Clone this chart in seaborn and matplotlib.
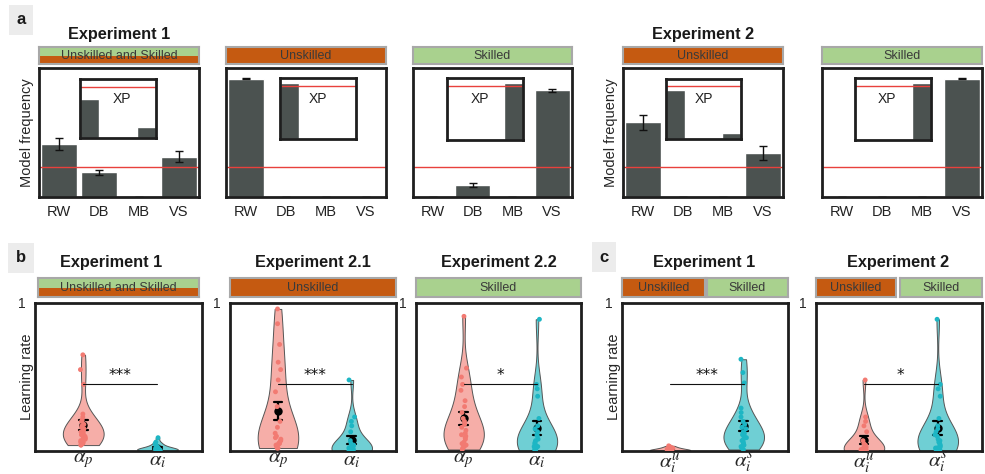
import numpy as np
import pandas as pd
import matplotlib
matplotlib.use('Agg')
import matplotlib.pyplot as plt
import seaborn as sns

# ---- data ----
models = ['RW', 'DB', 'MB', 'VS']
chance_level = 0.25
xp_threshold = 0.95

# panel a: model frequency (mean, sem) and exceedance probability (inset)
freq_e1_all = [0.45, 0.21, 0.0, 0.34]
sem_e1_all = [0.05, 0.02, 0.0, 0.045]
xp_e1_all = [0.72, 0.02, 0.0, 0.21]

freq_e1_unsk = [1.0, 0.0, 0.0, 0.0]
sem_e1_unsk = [0.005, 0.0, 0.0, 0.0]
xp_e1_unsk = [1.0, 0.0, 0.0, 0.0]

freq_e1_sk = [0.0, 0.10, 0.0, 0.90]
sem_e1_sk = [0.0, 0.015, 0.0, 0.015]
xp_e1_sk = [0.0, 0.0, 0.0, 1.0]

freq_e2_unsk = [0.63, 0.0, 0.0, 0.37]
sem_e2_unsk = [0.06, 0.0, 0.0, 0.06]
xp_e2_unsk = [0.89, 0.0, 0.0, 0.11]

freq_e2_sk = [0.0, 0.0, 0.0, 1.0]
sem_e2_sk = [0.0, 0.0, 0.0, 0.005]
xp_e2_sk = [0.0, 0.0, 0.0, 1.0]

# panel b/c: learning rates per participant
alpha_p_e1 = [0.65, 0.55, 0.45, 0.25, 0.23, 0.21, 0.20, 0.18, 0.17, 0.16, 0.15, 0.14, 0.13,
              0.12, 0.11, 0.10, 0.09, 0.09, 0.08, 0.07, 0.06, 0.06, 0.05, 0.04, 0.04]
alpha_i_e1 = [0.09, 0.06, 0.05, 0.04, 0.03, 0.03, 0.02, 0.02, 0.02, 0.01, 0.01, 0.01,
              0.01, 0.01, 0.005, 0.005, 0.0, 0.0, 0.0, 0.0]
alpha_p_e21 = [0.96, 0.86, 0.72, 0.60, 0.55, 0.48, 0.40, 0.30, 0.20, 0.16, 0.12, 0.10,
               0.09, 0.08, 0.07, 0.06, 0.05, 0.05, 0.04, 0.03, 0.02, 0.02]
alpha_i_e21 = [0.48, 0.23, 0.20, 0.17, 0.13, 0.07, 0.05, 0.04, 0.03, 0.02, 0.02, 0.01,
               0.01, 0.01, 0.0, 0.0, 0.0, 0.0, 0.0, 0.0]
alpha_p_e22 = [0.91, 0.56, 0.50, 0.45, 0.41, 0.34, 0.30, 0.26, 0.22, 0.20, 0.18, 0.16,
               0.14, 0.12, 0.11, 0.10, 0.09, 0.08, 0.06, 0.05, 0.04, 0.03, 0.02, 0.01]
alpha_i_e22 = [0.89, 0.45, 0.42, 0.37, 0.22, 0.17, 0.15, 0.13, 0.11, 0.10, 0.08, 0.07,
               0.06, 0.05, 0.04, 0.03, 0.03, 0.02, 0.02, 0.01, 0.01, 0.0]
alpha_iu_e1 = [0.035, 0.03, 0.025, 0.02, 0.02, 0.015, 0.015, 0.01, 0.01, 0.01, 0.008,
               0.005, 0.005, 0.003, 0.002, 0.0, 0.0, 0.0]
alpha_is_e1 = [0.62, 0.53, 0.46, 0.29, 0.26, 0.23, 0.20, 0.18, 0.16, 0.15, 0.13, 0.12,
               0.11, 0.10, 0.09, 0.08, 0.07, 0.06, 0.05, 0.04, 0.04, 0.03, 0.02, 0.01]

# ---- style ----
sns.set_style('white')
plt.rcParams['font.family'] = ['Liberation Sans', 'DejaVu Sans']
plt.rcParams['mathtext.fontset'] = 'stix'
np.random.seed(2)

W, H = 985, 474
fig = plt.figure(figsize=(W / 100, H / 100), dpi=100)

bar_color = '#4b5250'
red = '#e8413c'
green = '#a9d18e'
orange = '#c55a11'
pink_fill, pink_pt = '#f6aea8', '#f27a72'
cyan_fill, cyan_pt = '#6fcfd4', '#1db6c4'


def box(l, r, t, b):
    return [l / W, 1 - b / H, (r - l) / W, (b - t) / H]


def frame(ax, lw=2.0):
    for sp in ax.spines.values():
        sp.set_visible(True)
        sp.set_color('#1e1e1e')
        sp.set_linewidth(lw)


def strip(l, r, t, b, text, colors):
    s = fig.add_axes(box(l, r, t, b))
    s.set_xlim(0, 1)
    s.set_ylim(0, 1)
    if len(colors) == 2:
        s.axhspan(0.5, 1, color=colors[0], lw=0)
        s.axhspan(0, 0.5, color=colors[1], lw=0)
    else:
        s.set_facecolor(colors[0])
    s.set_xticks([])
    s.set_yticks([])
    for sp in s.spines.values():
        sp.set_visible(True)
        sp.set_color('#a8a8a8')
        sp.set_linewidth(1.5)
    s.text(0.5, 0.45, text, ha='center', va='center', fontsize=9, color='#3a3a3a')


def bar_panel(rect, freq, sem, xp, inset, xp_x, ylabel=''):
    ax = fig.add_axes(box(*rect))
    df = pd.DataFrame({'model': models, 'freq': freq})
    sns.barplot(data=df, x='model', y='freq', color=bar_color, saturation=1,
                width=0.88, ax=ax)
    ax.errorbar(range(len(models)), freq, yerr=sem, fmt='none', ecolor='#111',
                elinewidth=1, capsize=3, capthick=1)
    ax.axhline(chance_level, color=red, lw=1)
    ax.set_xlim(-0.5, 3.5)
    ax.set_ylim(0, 1.09)
    ax.set_yticks([])
    ax.set_xlabel('')
    ax.set_ylabel(ylabel, fontsize=10.5)
    ax.yaxis.set_label_coords(-0.03, 0.5)
    ax.tick_params(axis='x', length=0, pad=6, labelsize=10.5, labelcolor='#222')
    frame(ax)

    ins = ax.inset_axes(inset)
    dfx = pd.DataFrame({'model': models, 'xp': xp})
    sns.barplot(data=dfx, x='model', y='xp', color=bar_color, saturation=1,
                width=1.0, ax=ins)
    ins.axhline(xp_threshold, color=red, lw=1)
    ins.set_xlim(-0.5, 3.5)
    ins.set_ylim(0, 1.09)
    ins.set_xticks([])
    ins.set_yticks([])
    ins.set_xlabel('')
    ins.set_ylabel('')
    ins.text(xp_x, 0.66, 'XP', transform=ins.transAxes, ha='center', va='center',
             fontsize=10, color='#222')
    frame(ins)
    return ax


def violin_panel(rect, vals_a, vals_b, labels, stars, ylabel=''):
    ax = fig.add_axes(box(*rect))
    names = ['a', 'b']
    df = pd.DataFrame({'param': [names[0]] * len(vals_a) + [names[1]] * len(vals_b),
                       'rate': vals_a + vals_b})
    sns.violinplot(data=df, x='param', y='rate', hue='param', order=names,
                   hue_order=names, palette={'a': pink_fill, 'b': cyan_fill},
                   saturation=1, cut=0, inner=None, density_norm='width',
                   width=0.55, linewidth=0.7, linecolor='#555555', legend=False, ax=ax)
    sns.stripplot(data=df, x='param', y='rate', hue='param', order=names,
                  hue_order=names, palette={'a': pink_pt, 'b': cyan_pt},
                  jitter=0.04, size=3.5, legend=False, ax=ax, zorder=3)
    sns.pointplot(data=df, x='param', y='rate', order=names, errorbar='se',
                  color='black', markers='o', markersize=4, linestyle='none',
                  capsize=0.12, err_kws={'linewidth': 1.6}, ax=ax)
    ax.plot([0, 1], [0.45, 0.45], color='#111', lw=0.8, zorder=4)
    ax.text(0.5, 0.48, stars, ha='center', va='baseline', fontsize=11,
            family='DejaVu Sans', color='#111')
    ax.set_xlim(-0.65, 1.6)
    ax.set_ylim(0, 1)
    ax.set_yticks([0.25, 0.5, 0.75, 1.0])
    ax.set_yticklabels(['', '', '', '1'])
    ax.set_xticks([0, 1])
    ax.set_xticklabels(labels, fontsize=15)
    ax.tick_params(axis='y', direction='in', length=3, color='#aaaaaa',
                   labelsize=10, pad=7)
    ax.tick_params(axis='x', length=0, pad=0)
    ax.set_xlabel('')
    ax.set_ylabel(ylabel, fontsize=10.5)
    ax.yaxis.set_label_coords(-0.006, 0.5)
    frame(ax)
    return ax


# ---- row a ----
bar_panel((39, 199, 68, 197), freq_e1_all, sem_e1_all, xp_e1_all,
          [0.256, 0.457, 0.474, 0.458], 0.56, 'Model frequency')
bar_panel((226, 386, 68, 197), freq_e1_unsk, sem_e1_unsk, xp_e1_unsk,
          [0.337, 0.447, 0.473, 0.473], 0.5)
bar_panel((413, 572, 68, 197), freq_e1_sk, sem_e1_sk, xp_e1_sk,
          [0.212, 0.445, 0.478, 0.475], 0.44)
bar_panel((623, 783, 68, 197), freq_e2_unsk, sem_e2_unsk, xp_e2_unsk,
          [0.267, 0.447, 0.473, 0.47], 0.5, 'Model frequency')
bar_panel((822, 982, 68, 197), freq_e2_sk, sem_e2_sk, xp_e2_sk,
          [0.208, 0.445, 0.475, 0.475], 0.41)

strip(39, 199, 47, 64, 'Unskilled and Skilled', [green, orange])
strip(226, 386, 47, 64, 'Unskilled', [orange])
strip(413, 572, 47, 64, 'Skilled', [green])
strip(623, 783, 47, 64, 'Unskilled', [orange])
strip(822, 982, 47, 64, 'Skilled', [green])

# ---- rows b / c ----
lab_pi = [r'$\alpha_p$', r'$\alpha_i$']
lab_us = [r'$\alpha_i^u$', r'$\alpha_i^s$']
violin_panel((35, 202, 303, 451), alpha_p_e1, alpha_i_e1, lab_pi, '***', 'Learning rate')
violin_panel((230, 396, 303, 451), alpha_p_e21, alpha_i_e21, lab_pi, '***')
violin_panel((416, 581, 303, 451), alpha_p_e22, alpha_i_e22, lab_pi, '*')
violin_panel((622, 788, 303, 451), alpha_iu_e1, alpha_is_e1, lab_us, '***', 'Learning rate')
violin_panel((816, 982, 303, 451), alpha_i_e21, alpha_i_e22, lab_us, '*')

strip(38, 199, 278, 297, 'Unskilled and Skilled', [green, orange])
strip(230, 396, 278, 297, 'Unskilled', [orange])
strip(416, 581, 278, 297, 'Skilled', [green])
strip(622, 705, 278, 297, 'Unskilled', [orange])
strip(707, 788, 278, 297, 'Skilled', [green])
strip(816, 896, 278, 297, 'Unskilled', [orange])
strip(900, 982, 278, 297, 'Skilled', [green])

# ---- titles and panel letters ----
titles = [(119, 38.5, 'Experiment 1'), (703, 38.5, 'Experiment 2'),
          (111, 266.5, 'Experiment 1'), (313, 266.5, 'Experiment 2.1'),
          (499, 266.5, 'Experiment 2.2'), (704, 266.5, 'Experiment 1'),
          (898, 266.5, 'Experiment 2')]
for x, y, t in titles:
    fig.text(x / W, 1 - y / H, t, ha='center', va='baseline', fontsize=11.7,
             fontweight='bold', color='#1a1a1a')

for x, y, t in [(21, 20, 'a'), (21, 258, 'b'), (604, 257, 'c')]:
    fig.text(x / W, 1 - y / H, t, ha='center', va='center', fontsize=12,
             fontweight='bold', color='#1a1a1a',
             bbox=dict(boxstyle='square,pad=0.45', facecolor='#ececec', edgecolor='none'))

fig.savefig('out.png', dpi=100)
